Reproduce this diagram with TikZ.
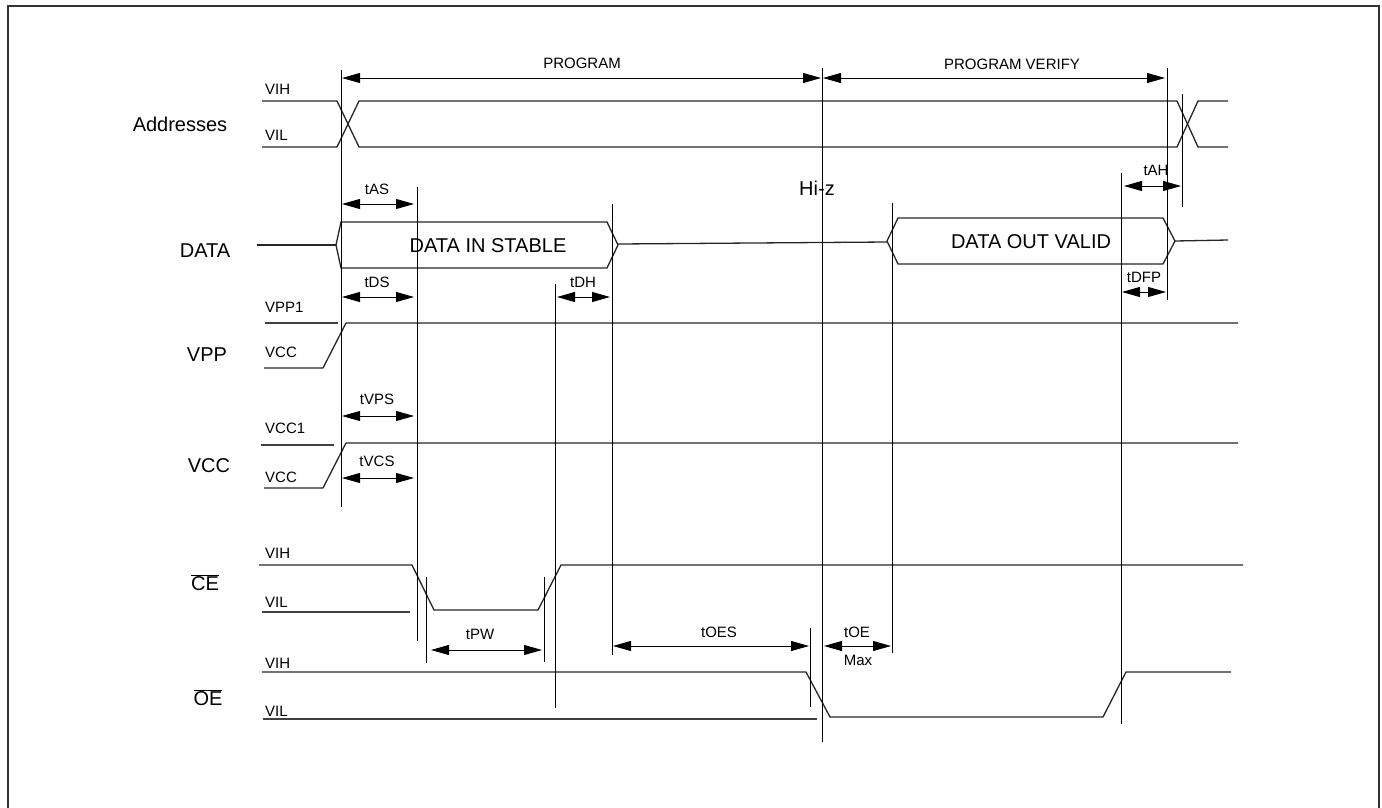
\documentclass[tikz,border=0pt]{standalone}
\usepackage{fontspec}
\setmainfont{Liberation Sans}
\usetikzlibrary{arrows.meta}
\begin{document}
\begin{tikzpicture}[x=1pt,y=-1pt,
  wave/.style={line width=1.3pt,draw=black!85,line join=miter},
  stub/.style={line width=1.3pt,draw=black!75},
  tmark/.style={line width=0.9pt,draw=black},
  dim/.style={line width=0.9pt,{Triangle[length=18pt,width=10pt]}-{Triangle[length=18pt,width=10pt]}},
  big/.style={font=\fontsize{20}{22}\selectfont,inner sep=0pt},
  lvl/.style={font=\fontsize{15}{17}\selectfont,inner sep=0pt,anchor=west},
  tlab/.style={font=\fontsize{15}{17}\selectfont,inner sep=0pt},
  box/.style={font=\fontsize{20}{22}\selectfont,inner sep=0pt}]
\useasboundingbox (0,0) rectangle (1382,807);
\draw[line width=1.6pt,black!80] (8,812) -- (8,6) -- (1379,6) -- (1379,812);

% row labels
\node[big] (lAddr) at (180,124) {Addresses};
\node[big] (lData) at (205,251) {DATA};
\node[big] (lVpp) at (207,355) {VPP};
\node[big] (lVcc) at (209,466) {VCC};
\node[big] (lCe) at (205,583) {$\overline{\hbox{CE}}$};
\node[big] (lOe) at (208,698) {$\overline{\hbox{OE}}$};

% level labels
\node[lvl] (a1) at (265,89) {VIH};
\node[lvl] (a2) at (265,135) {VIL};
\node[lvl] (p1) at (265,307) {VPP1};
\node[lvl] (p2) at (265,352) {VCC};
\node[lvl] (c1) at (265,428) {VCC1};
\node[lvl] (c2) at (265,477) {VCC};
\node[lvl] (e1) at (265,553) {VIH};
\node[lvl] (e2) at (265,602) {VIL};
\node[lvl] (o1) at (265,663) {VIH};
\node[lvl] (o2) at (265,711) {VIL};

% addresses
\draw[wave] (262,101) -- (337,101) -- (359,147) -- (1177,147) -- (1198,101) -- (1228,101);
\draw[wave] (262,147) -- (337,147) -- (359,101) -- (1177,101) -- (1198,147) -- (1228,147);

% data
\draw[wave] (257,245) -- (336,245);
\draw[wave] (336,245) -- (341,222) -- (607,222) -- (618,245) -- (607,268) -- (341,268) -- cycle;
\node[box] (din) at (488,246) {DATA IN STABLE};
\draw[wave] (618,244) -- (887,242);
\draw[wave] (887,241) -- (898,218) -- (1163,218) -- (1175,241) -- (1163,264) -- (898,264) -- cycle;
\node[box] (dout) at (1031,242) {DATA OUT VALID};
\draw[wave] (1175,241) -- (1228,240);

% VPP
\draw[stub] (265,323) -- (338,323);
\draw[wave] (264,368) -- (323,368) -- (346,323) -- (1238,323);
% VCC
\draw[stub] (261,445) -- (334,445);
\draw[wave] (264,488) -- (323,488) -- (346,443) -- (1238,443);
% CE
\draw[wave] (259,565) -- (412,565) -- (434,610) -- (538,610) -- (561,565) -- (1243,565);
\draw[stub] (262,612) -- (410,612);
% OE
\draw[wave] (262,672) -- (806,672) -- (830,717) -- (1103,717) -- (1126,672) -- (1231,672);
\draw[stub] (263,719) -- (817,719);

% timing marker lines
\draw[tmark] (341,70) -- (341,507);
\draw[tmark] (417,187) -- (417,641);
\draw[tmark] (555,284) -- (555,708);
\draw[tmark] (612,204) -- (612,655);
\draw[tmark] (822,68) -- (822,742);
\draw[tmark] (892,203) -- (892,653);
\draw[tmark] (1121,173) -- (1121,724);
\draw[tmark] (1167,68) -- (1167,300);
\draw[tmark] (1182,94) -- (1182,207);
\draw[tmark] (426,577) -- (426,663);
\draw[tmark] (544,577) -- (544,662);
\draw[tmark] (810,628) -- (810,707);

% dimension arrows
\draw[dim] (342,78) -- (821,78);
\node[tlab] (tprog) at (582,63) {PROGRAM};
\draw[dim] (823,78) -- (1165,78);
\node[tlab] (tpv) at (1012,64) {PROGRAM VERIFY};
\draw[dim] (342,204) -- (414,204);
\node[tlab] (tas) at (377,189) {tAS};
\draw[dim] (342,297) -- (414,297);
\node[tlab] (tds) at (377,282) {tDS};
\draw[dim] (557,297) -- (610,297);
\node[tlab] (tdh) at (583,282) {tDH};
\draw[dim] (342,416) -- (414,416);
\node[tlab] (tvps) at (377,399) {tVPS};
\draw[dim] (342,478) -- (414,478);
\node[tlab] (tvcs) at (377,461) {tVCS};
\draw[dim] (431,650) -- (542,650);
\node[tlab] (tpw) at (480,634) {tPW};
\draw[dim] (613,646) -- (809,646);
\node[tlab] (toes) at (719,632) {tOES};
\draw[dim] (824,646) -- (891,646);
\node[tlab] (toe) at (857,632) {tOE};
\node[tlab] (tmax) at (858,660) {Max};
\draw[dim] (1124,186) -- (1181,186);
\node[tlab] (tah) at (1156,170) {tAH};
\draw[dim] (1122,292) -- (1166,292);
\node[tlab] (tdfp) at (1144,277) {tDFP};

\node[box] (hiz) at (817,188) {Hi-z};
\end{tikzpicture}
\end{document}
